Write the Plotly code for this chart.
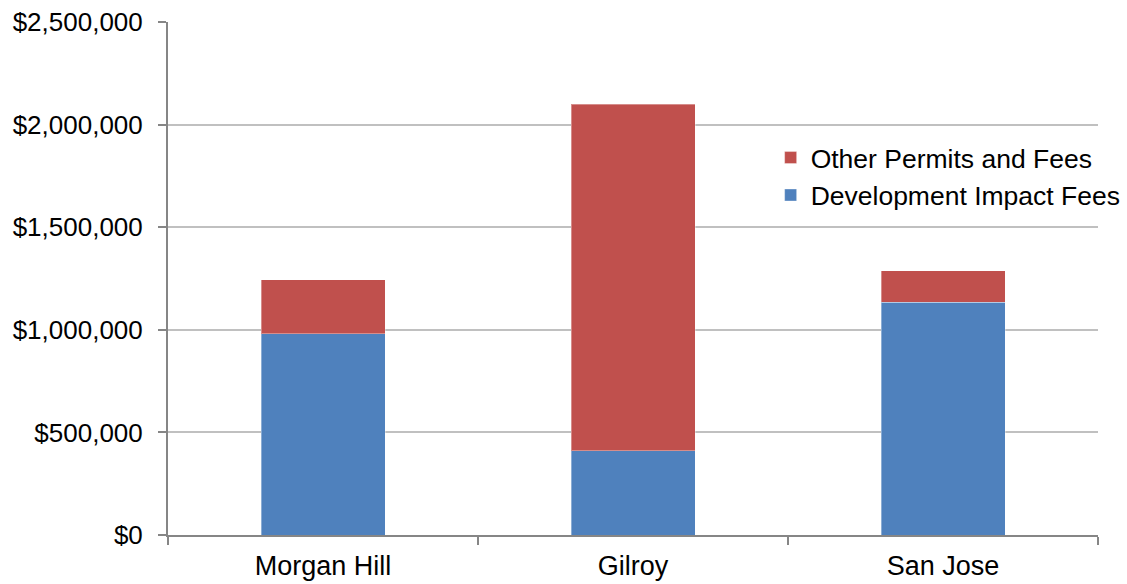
import plotly.graph_objects as go

# Fees per city (USD)
cities = ["Morgan Hill", "Gilroy", "San Jose"]
development_impact_fees = [980000, 410000, 1135000]
other_permits_and_fees = [264000, 1690000, 153000]

y_ticks = [0, 500000, 1000000, 1500000, 2000000, 2500000]
y_tick_labels = ["$" + f"{v:,}" for v in y_ticks]

BLUE = "#4F81BD"
RED = "#C0504D"
FONT = "Liberation Sans, Arial, sans-serif"

fig = go.Figure()
fig.add_trace(go.Bar(
    x=cities, y=development_impact_fees, name="Development Impact Fees",
    marker=dict(color=BLUE, line=dict(color="rgba(255,255,255,0.35)", width=1)),
))
fig.add_trace(go.Bar(
    x=cities, y=other_permits_and_fees, name="Other Permits and Fees",
    marker=dict(color=RED, line=dict(color="rgba(255,255,255,0.35)", width=1)),
))

fig.update_layout(
    barmode="stack",
    bargap=0.6,
    width=1127, height=584,
    margin=dict(l=168, r=29, t=22, b=49, autoexpand=False),
    plot_bgcolor="white", paper_bgcolor="white",
    font=dict(family=FONT, size=27, color="#000000"),
    legend=dict(
        x=0.648, y=0.782, xanchor="left", yanchor="top",
        traceorder="reversed", bgcolor="rgba(0,0,0,0)",
        font=dict(size=26.5), itemwidth=30, tracegroupgap=0,
    ),
    xaxis=dict(
        showline=True, linecolor="#868686", linewidth=2,
        ticks="outside", tickson="boundaries", ticklen=8, tickwidth=2, tickcolor="#868686",
        showgrid=False, ticklabelstandoff=6, automargin=False,
    ),
    yaxis=dict(
        range=[0, 2500000], tickmode="array", tickvals=y_ticks, ticktext=y_tick_labels,
        tickfont=dict(size=26),
        showline=True, linecolor="#868686", linewidth=2,
        ticks="outside", ticklen=8, tickwidth=2, tickcolor="#868686",
        showgrid=True, gridcolor="#C0C0C0", gridwidth=2,
        zeroline=False, ticklabelstandoff=10, automargin=False,
    ),
)

fig.write_html("out.html")
